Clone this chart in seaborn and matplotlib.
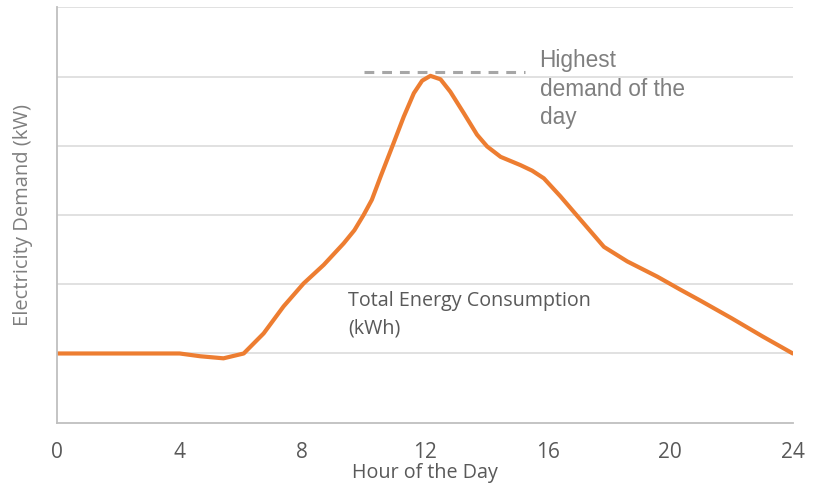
import numpy as np
import pandas as pd
import matplotlib
matplotlib.use("Agg")
import matplotlib.pyplot as plt
import seaborn as sns

# values (y in gridline units)
hours = [0, 1, 2, 3, 4, 4.67, 5.43, 6.09, 6.74, 7.39, 8.04, 8.7, 9.35, 9.7,
         10.0, 10.27, 10.55, 10.98, 11.31, 11.64, 11.91, 12.18, 12.51,
         12.83, 13.27, 13.7, 14.03, 14.47, 15.12, 15.5, 15.88, 16.42, 17.08,
         17.84, 18.6, 19.58, 20.34, 21, 22, 23, 24]
demand = [1.0, 1.0, 1.0, 1.0, 1.0, 0.96, 0.93, 1.0, 1.29, 1.68, 2.01, 2.28, 2.59,
          2.78, 3.0, 3.22, 3.55, 4.04, 4.42, 4.76, 4.94, 5.01, 4.96,
          4.78, 4.47, 4.16, 3.99, 3.84, 3.72, 3.64, 3.53, 3.27, 2.93,
          2.54, 2.33, 2.11, 1.92, 1.76, 1.51, 1.25, 1.0]
peak_span = [10.0, 15.25]
peak_value = 5.06
x_ticks = [0, 4, 8, 12, 16, 20, 24]

df = pd.DataFrame({"hour": hours, "demand": demand})

sns.set_style("white")
plt.rcParams['font.family'] = ['Open Sans', 'DejaVu Sans']

fig = plt.figure(figsize=(8.19, 4.87), dpi=100)
ax = fig.add_axes([0.0696, 0.132, 0.8984, 0.853])

sns.lineplot(data=df, x="hour", y="demand", color="#ED7D31", linewidth=3.0,
             ax=ax, solid_capstyle="round", solid_joinstyle="round")

ax.plot(peak_span, [peak_value, peak_value], color="#A6A6A6", linewidth=2.2,
        linestyle=(0, (3.2, 2.6)), zorder=1)

ax.set_xlim(0, 24)
ax.set_ylim(0, 6)
ax.set_xticks(x_ticks)
ax.set_xticklabels([str(t) for t in x_ticks])
ax.set_yticks([1, 2, 3, 4, 5, 6])
ax.set_yticklabels([])
ax.yaxis.grid(True, color="#D9D9D9", linewidth=1.1)
ax.set_axisbelow(True)
ax.tick_params(axis='x', length=0, pad=14, labelsize=15, colors="#595959")
ax.tick_params(axis='y', length=0)

for side in ["top", "right"]:
    ax.spines[side].set_visible(False)
for side in ["left", "bottom"]:
    ax.spines[side].set_color("#BFBFBF")
    ax.spines[side].set_linewidth(1.3)

ax.set_xlabel("Hour of the Day", fontsize=14.2, color="#595959", labelpad=0)
ax.set_ylabel("Electricity Demand (kW)", fontsize=14.5, color="#7F7F7F", labelpad=14)

ax.text(15.74, 4.82, "Highest\ndemand of the\nday", fontsize=16.3,
        color="#7F7F7F", family=['Liberation Sans', 'DejaVu Sans'],
        va="center", ha="left", linespacing=1.3)
ax.text(9.5, 1.56, "Total Energy Consumption\n(kWh)", fontsize=14.2,
        color="#595959", va="center", ha="left", linespacing=1.5)

fig.savefig("out.png", dpi=100)
